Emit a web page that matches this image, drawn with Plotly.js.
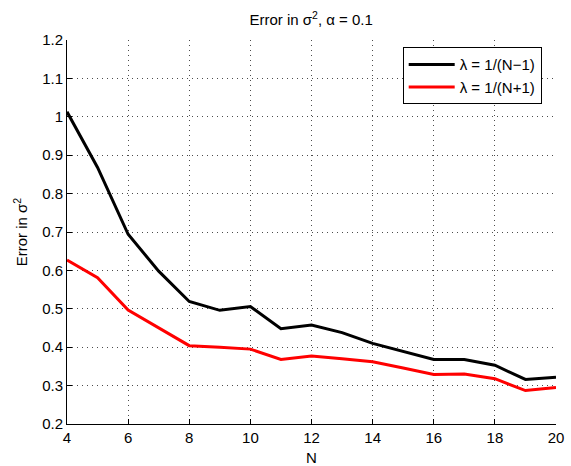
<!DOCTYPE html>
<html>
<head>
<meta charset="utf-8">
<script src="https://cdn.plot.ly/plotly-3.0.1.min.js"></script>
<style>html,body{margin:0;padding:0;background:#fff;}#chart{width:571px;height:466px;}</style>
</head>
<body>
<div id="chart"></div>
<script>
const N = [4,5,6,7,8,9,10,11,12,13,14,15,16,17,18,19,20];
const errMinus = [1.013,0.868,0.694,0.598,0.519,0.496,0.506,0.448,0.458,0.438,0.410,0.388,0.368,0.368,0.353,0.316,0.322];
const errPlus  = [0.627,0.581,0.497,0.451,0.404,0.400,0.395,0.368,0.377,0.370,0.362,0.346,0.329,0.330,0.318,0.287,0.295];
const seriesNames = ['λ = 1/(N−1)', 'λ = 1/(N+1)'];
const xTicks = [4,6,8,10,12,14,16,18,20];
const yTicks = [0.2,0.3,0.4,0.5,0.6,0.7,0.8,0.9,1.0,1.1,1.2];
const yTickText = ['0.2','0.3','0.4','0.5','0.6','0.7','0.8','0.9','1','1.1','1.2'];

const fam = 'Liberation Sans, Arial, sans-serif';
const traces = [
  {x: N, y: errMinus, mode: 'lines', name: seriesNames[0], line: {color: '#000', width: 3}},
  {x: N, y: errPlus, mode: 'lines', name: seriesNames[1], line: {color: '#ff0000', width: 3}}
];
const grid = {showgrid: true, gridcolor: 'rgba(0,0,0,0.7)', gridwidth: 1, griddash: '1px,4px'};
const layout = {
  width: 571, height: 466,
  margin: {l: 67, r: 15, t: 40, b: 42, pad: 0},
  paper_bgcolor: '#fff', plot_bgcolor: '#fff',
  font: {family: fam, size: 15, color: '#000'},
  title: {text: 'Error in σ<sup>2</sup>, α = 0.1', x: 0.545, xanchor: 'center', y: 0.958, yanchor: 'middle', font: {family: fam, size: 15, color: '#000'}},
  xaxis: Object.assign({
    range: [4, 20], tickvals: xTicks, ticks: 'inside', ticklen: 5, tickcolor: '#000',
    showline: true, linecolor: '#000', linewidth: 1, zeroline: false,
    title: {text: 'N', standoff: 7, font: {family: fam, size: 15}},
    tickfont: {family: fam, size: 15}
  }, grid),
  yaxis: Object.assign({
    range: [0.2, 1.2], tickvals: yTicks, ticktext: yTickText, ticks: 'inside', ticklen: 5, tickcolor: '#000',
    showline: true, linecolor: '#000', linewidth: 1, zeroline: false,
    title: {text: 'Error in σ<sup>2</sup>', standoff: 10, font: {family: fam, size: 15}},
    tickfont: {family: fam, size: 15}
  }, grid),
  legend: {x: 0.6865, y: 0.981, xanchor: 'left', yanchor: 'top', bgcolor: '#fff', bordercolor: '#000', borderwidth: 1,
    font: {family: fam, size: 15, color: '#000'}, tracegroupgap: 0, itemwidth: 46},
  showlegend: true
};
Plotly.newPlot('chart', traces, layout, {displayModeBar: false, staticPlot: true});
</script>
</body>
</html>
